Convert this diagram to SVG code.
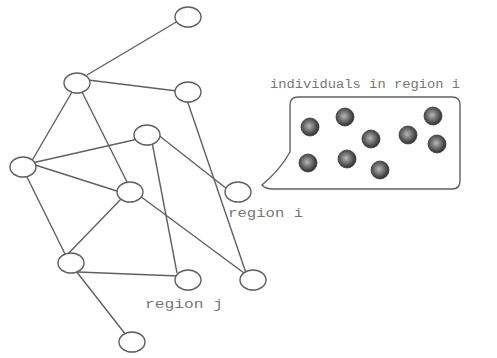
<svg xmlns="http://www.w3.org/2000/svg" width="497" height="358" viewBox="0 0 497 358">
<defs>
<radialGradient id="ball" cx="0.45" cy="0.45" r="0.55">
<stop offset="0" stop-color="#b8b8b8"/>
<stop offset="0.55" stop-color="#6a6a6a"/>
<stop offset="1" stop-color="#2e2e2e"/>
</radialGradient>
<style>
.edge{stroke:#606060;stroke-width:1.4;fill:none}
.node{fill:#fff;stroke:#606060;stroke-width:1.4}
.lbl{font-family:"Liberation Mono","DejaVu Sans Mono",monospace;font-size:12px;fill:#777}
.ind{fill:url(#ball);stroke:#3a3a3a;stroke-width:0.8}
</style>
</defs>
<rect width="497" height="358" fill="#fff"/>
<g id="connectors">
<line class="edge" x1="87" y1="75" x2="178" y2="21"/>
<line class="edge" x1="88" y1="80" x2="177" y2="91"/>
<line class="edge" x1="72" y1="92" x2="30" y2="164"/>
<line class="edge" x1="82" y1="92" x2="128" y2="184"/>
<line class="edge" x1="187" y1="100" x2="246" y2="273"/>
<line class="edge" x1="32" y1="163" x2="138" y2="139"/>
<line class="edge" x1="32" y1="164" x2="120" y2="192"/>
<line class="edge" x1="26" y1="175" x2="66" y2="256"/>
<line class="edge" x1="157" y1="134" x2="227" y2="189"/>
<line class="edge" x1="152" y1="142" x2="177" y2="273"/>
<line class="edge" x1="122" y1="198" x2="66" y2="256"/>
<line class="edge" x1="140" y1="196" x2="244" y2="273"/>
<line class="edge" x1="78" y1="272" x2="178" y2="276"/>
<line class="edge" x1="76" y1="271" x2="126" y2="335"/>
</g>
<g id="n1"><ellipse class="node" cx="188" cy="17" rx="13" ry="10"/></g>
<g id="n2"><ellipse class="node" cx="77" cy="83" rx="13" ry="10"/></g>
<g id="n3"><ellipse class="node" cx="188" cy="92" rx="13" ry="10"/></g>
<g id="n4"><ellipse class="node" cx="147" cy="135" rx="13" ry="10"/></g>
<g id="n5"><ellipse class="node" cx="23" cy="167" rx="13" ry="10"/></g>
<g id="n6"><ellipse class="node" cx="130" cy="192" rx="13" ry="10"/></g>
<g id="n7"><ellipse class="node" cx="238" cy="192" rx="13" ry="10"/>
<text class="lbl" x="228" y="217" textLength="75" lengthAdjust="spacingAndGlyphs">region i</text></g>
<g id="n8"><ellipse class="node" cx="71" cy="263" rx="13" ry="10"/></g>
<g id="n9"><ellipse class="node" cx="188" cy="280" rx="13" ry="10"/>
<text class="lbl" x="145" y="308" textLength="78" lengthAdjust="spacingAndGlyphs">region j</text></g>
<g id="n10"><ellipse class="node" cx="253" cy="280" rx="13" ry="10"/></g>
<g id="n11"><ellipse class="node" cx="132" cy="342" rx="13" ry="10"/></g>
<g id="callout">
<text class="lbl" x="270" y="88" textLength="190" lengthAdjust="spacingAndGlyphs">individuals in region i</text>
<path class="edge" d="M298 97 H452 Q460 97 460 105 V181 Q460 189 452 189 H274 Q265 189 262 185 Q280 170 290 152 V105 Q290 97 298 97 Z"/>
<circle class="ind" cx="310" cy="127" r="9"/>
<circle class="ind" cx="345" cy="117" r="9"/>
<circle class="ind" cx="371" cy="139" r="9"/>
<circle class="ind" cx="408" cy="135" r="9"/>
<circle class="ind" cx="433" cy="116" r="9"/>
<circle class="ind" cx="437" cy="144" r="9"/>
<circle class="ind" cx="308" cy="163" r="9"/>
<circle class="ind" cx="347" cy="159" r="9"/>
<circle class="ind" cx="380" cy="170" r="9"/>
</g>
</svg>
